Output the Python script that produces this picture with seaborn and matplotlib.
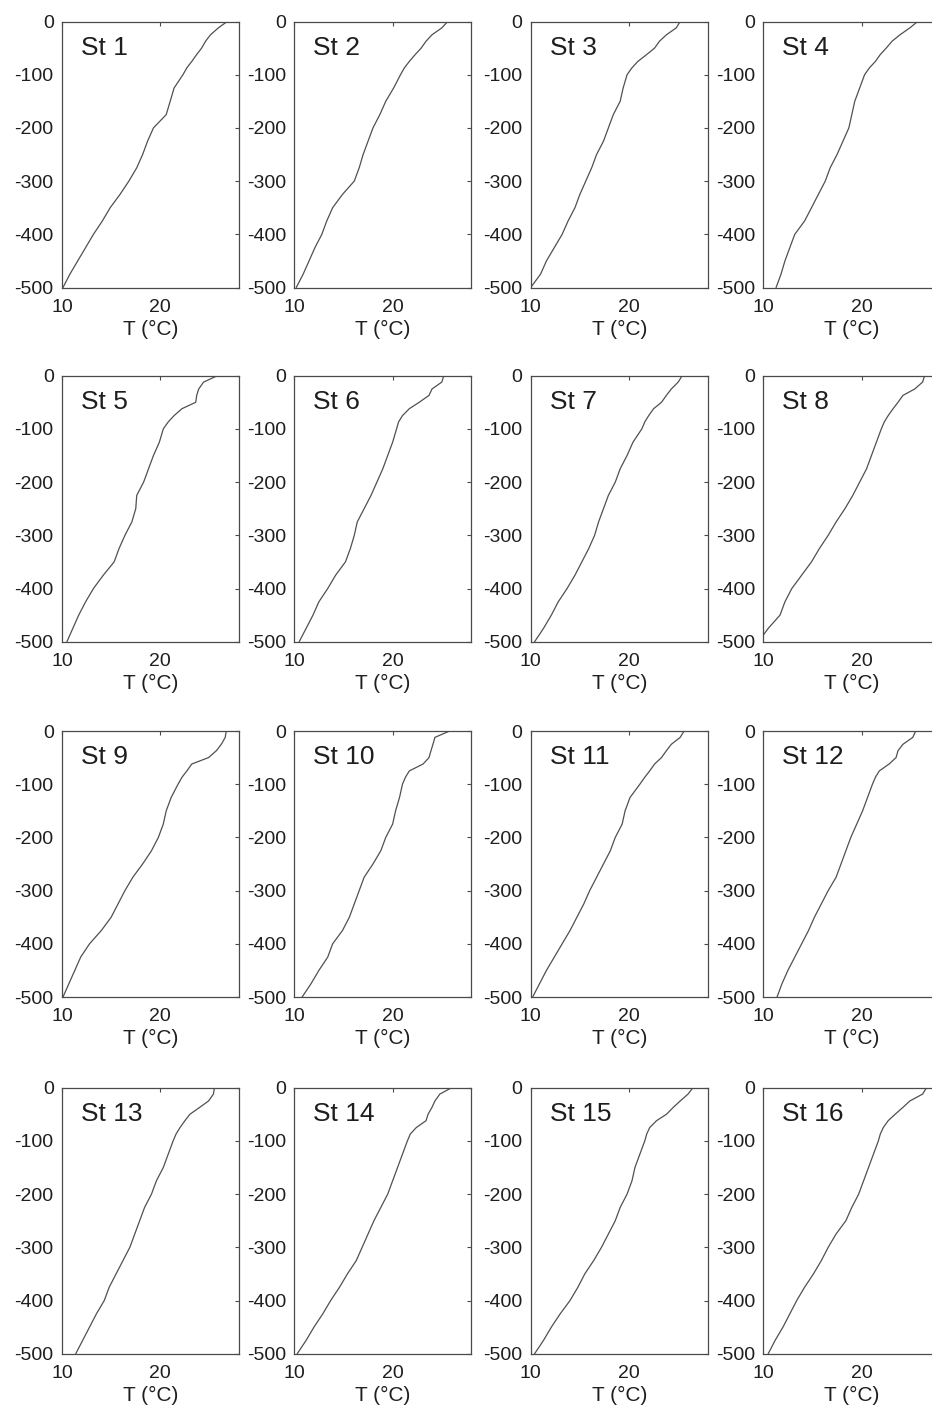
import matplotlib
matplotlib.use("Agg")
import matplotlib.pyplot as plt
import seaborn as sns
import pandas as pd
import numpy as np

# depth levels (m)
depth = [0, -12, -25, -37, -50, -62, -75, -87, -100, -125, -150, -175, -200,
         -225, -250, -275, -300, -325, -350, -375, -400, -425, -450, -475, -500]

st1 = [26.8, 25.9, 25.1, 24.6, 24.2, 23.7, 23.2, 22.7, 22.3, 21.4, 21.0, 20.6, 19.3, 18.7, 18.2, 17.6, 16.8, 15.9, 14.9, 14.1, 13.2, 12.4, 11.6, 10.8, 10.1]
st2 = [25.6, 25.0, 24.0, 23.4, 22.9, 22.3, 21.7, 21.2, 20.8, 20.1, 19.3, 18.7, 18.0, 17.5, 17.0, 16.6, 16.1, 14.9, 13.9, 13.3, 12.8, 12.1, 11.5, 10.9, 10.2]
st3 = [25.2, 24.8, 23.8, 23.1, 22.6, 21.8, 20.9, 20.3, 19.8, 19.4, 19.1, 18.4, 17.9, 17.4, 16.7, 16.2, 15.6, 15.0, 14.5, 13.8, 13.2, 12.4, 11.6, 11.0, 10.0]
st4 = [25.7, 24.9, 23.9, 23.1, 22.5, 21.9, 21.4, 20.8, 20.3, 19.8, 19.3, 19.0, 18.7, 18.1, 17.5, 16.8, 16.3, 15.6, 14.9, 14.2, 13.2, 12.7, 12.2, 11.8, 11.3]
st5 = [25.8, 24.4, 23.9, 23.7, 23.6, 22.2, 21.4, 20.8, 20.3, 19.9, 19.3, 18.8, 18.3, 17.6, 17.5, 17.1, 16.4, 15.8, 15.3, 14.2, 13.2, 12.4, 11.7, 11.1, 10.5]
st6 = [25.2, 25.0, 24.0, 23.7, 22.7, 21.7, 21.0, 20.6, 20.4, 20.0, 19.5, 19.0, 18.4, 17.8, 17.1, 16.4, 16.1, 15.7, 15.2, 14.2, 13.4, 12.5, 11.9, 11.2, 10.5]
st7 = [25.4, 25.0, 24.3, 23.8, 23.3, 22.5, 22.0, 21.6, 21.3, 20.4, 19.8, 19.1, 18.6, 17.9, 17.4, 16.9, 16.5, 15.9, 15.2, 14.5, 13.7, 12.8, 12.1, 11.3, 10.4]
st8 = [26.4, 26.2, 25.4, 24.2, 23.7, 23.2, 22.7, 22.3, 22.0, 21.5, 21.0, 20.5, 19.8, 19.1, 18.3, 17.4, 16.6, 15.7, 14.9, 13.9, 12.9, 12.2, 11.7, 10.5, 9.5]
st9 = [26.7, 26.6, 26.2, 25.7, 24.9, 23.2, 22.7, 22.2, 21.8, 21.1, 20.6, 20.3, 19.8, 19.1, 18.2, 17.2, 16.4, 15.7, 15.0, 14.0, 12.8, 11.9, 11.3, 10.7, 10.1]
st10 = [25.8, 24.3, 24.1, 23.9, 23.7, 23.1, 21.7, 21.3, 21.0, 20.7, 20.3, 20.0, 19.3, 18.8, 18.0, 17.1, 16.6, 16.1, 15.6, 14.9, 13.9, 13.4, 12.5, 11.7, 10.8]
st11 = [25.6, 25.2, 24.3, 23.8, 23.3, 22.6, 22.1, 21.6, 21.1, 20.1, 19.6, 19.3, 18.6, 18.1, 17.4, 16.7, 16.0, 15.4, 14.7, 14.0, 13.2, 12.4, 11.6, 10.9, 10.2]
st12 = [25.5, 25.2, 24.2, 23.7, 23.5, 22.8, 21.8, 21.4, 21.1, 20.6, 20.1, 19.5, 18.9, 18.4, 17.9, 17.4, 16.6, 15.9, 15.2, 14.6, 13.9, 13.2, 12.5, 11.9, 11.4]
st13 = [25.5, 25.4, 24.9, 24.0, 23.0, 22.5, 22.0, 21.6, 21.3, 20.8, 20.3, 19.6, 19.1, 18.4, 17.9, 17.4, 16.9, 16.2, 15.5, 14.8, 14.3, 13.5, 12.8, 12.1, 11.4]
st14 = [26.0, 24.8, 24.3, 24.0, 23.6, 23.4, 22.4, 21.8, 21.5, 21.0, 20.5, 20.0, 19.5, 18.8, 18.1, 17.5, 16.9, 16.3, 15.4, 14.6, 13.7, 12.9, 12.0, 11.2, 10.3]
st15 = [26.5, 26.0, 25.2, 24.5, 23.8, 22.8, 22.1, 21.8, 21.6, 21.1, 20.6, 20.3, 19.8, 19.1, 18.6, 17.9, 17.2, 16.4, 15.5, 14.8, 14.0, 13.0, 12.1, 11.3, 10.4]
st16 = [26.6, 26.2, 24.9, 24.2, 23.4, 22.7, 22.2, 21.9, 21.7, 21.2, 20.7, 20.2, 19.7, 19.0, 18.4, 17.4, 16.6, 15.9, 15.1, 14.2, 13.4, 12.7, 12.0, 11.2, 10.5]

stations = ["St 1", "St 2", "St 3", "St 4", "St 5", "St 6", "St 7", "St 8",
            "St 9", "St 10", "St 11", "St 12", "St 13", "St 14", "St 15", "St 16"]
temps = [st1, st2, st3, st4, st5, st6, st7, st8,
         st9, st10, st11, st12, st13, st14, st15, st16]

x_ticks = [10, 20]
y_ticks = [0, -100, -200, -300, -400, -500]
x_label = "T (°C)"

sns.set_style("white")
plt.rcParams['font.family'] = ['Liberation Sans', 'DejaVu Sans']
plt.rcParams['axes.unicode_minus'] = False

W, H = 932, 1413
fig = plt.figure(figsize=(W / 100, H / 100), dpi=100)

left_px = [62, 294.3, 530.7, 763.3]
top_px = [21.5, 375.7, 731, 1087.7]
aw, ah = 177, 266

edge = "#4a4a4a"
txt = "#1e1e1e"

for i, (name, t) in enumerate(zip(stations, temps)):
    r, c = divmod(i, 4)
    ax = fig.add_axes([left_px[c] / W, 1 - (top_px[r] + ah) / H, aw / W, ah / H])
    df = pd.DataFrame({"T": t, "z": depth})
    sns.lineplot(data=df, x="T", y="z", sort=False, estimator=None,
                 color="#505050", linewidth=0.9, ax=ax)
    ax.set_xlim(10, 28)
    ax.set_ylim(-500, 0)
    ax.set_xticks(x_ticks)
    ax.set_yticks(y_ticks)
    ax.set_xticklabels([str(v) for v in x_ticks])
    ax.set_yticklabels([str(v) for v in y_ticks])
    ax.tick_params(direction="in", top=True, right=True, length=3, width=0.8,
                   color=edge, labelsize=14, labelcolor=txt)
    ax.tick_params(axis="x", pad=8)
    ax.tick_params(axis="y", pad=6)
    ax.set_xlabel(x_label, fontsize=15, color=txt, labelpad=3)
    ax.set_ylabel("")
    for s in ax.spines.values():
        s.set_color(edge)
        s.set_linewidth(0.9)
        s.set_visible(True)
    ax.text(0.107, 0.902, name, transform=ax.transAxes, fontsize=19,
            color=txt, ha="left", va="center")
    ax.grid(False)

fig.savefig("out.png", dpi=100, facecolor="white")
